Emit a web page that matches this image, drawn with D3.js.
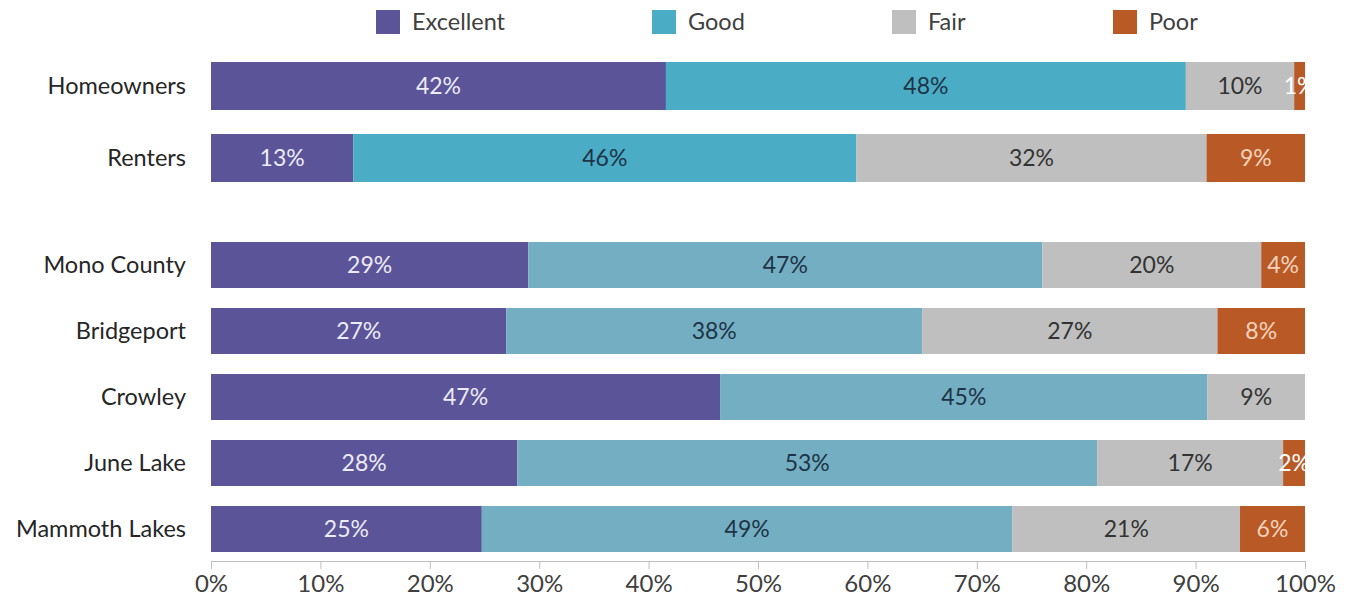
<!DOCTYPE html>
<html>
<head>
<meta charset="utf-8">
<script src="https://cdn.jsdelivr.net/npm/d3@7"></script>
<style>
body { margin: 0; background: #fff; }
</style>
</head>
<body>
<script>
// rating categories
var ratings = ["Excellent", "Good", "Fair", "Poor"];

// top block: tenure
var tenure = ["Homeowners", "Renters"];
var tenureExcellent = [42, 13];
var tenureGood = [48, 46];
var tenureFair = [10, 32];
var tenurePoor = [1, 9];

// bottom block: communities
var places = ["Mono County", "Bridgeport", "Crowley", "June Lake", "Mammoth Lakes"];
var placeExcellent = [29, 27, 47, 28, 25];
var placeGood = [47, 38, 45, 53, 49];
var placeFair = [20, 27, 9, 17, 21];
var placePoor = [4, 8, 0, 2, 6];

var xTicks = [0, 0.1, 0.2, 0.3, 0.4, 0.5, 0.6, 0.7, 0.8, 0.9, 1];

var width = 1353, height = 611;
var fontFam = "Lato, 'Open Sans', sans-serif";

var svg = d3.select("body")
	.append("svg")
	.attr("width", width)
	.attr("height", height);

var xScale = d3.scaleLinear()
	.domain([0, 1])
	.range([211, 1305]);

var fillTop = {Excellent: "#5b5499", Good: "#4bacc6", Fair: "#bfbfbf", Poor: "#b95a26"};
var fillBottom = {Excellent: "#5b5499", Good: "#74aec3", Fair: "#bfbfbf", Poor: "#b95a26"};
var labelColor = {Excellent: "#ecebf5", Good: "#1e3446", Fair: "#333333", Poor: "#f6d2bd"};

// clip so labels of thin end segments are cut at the bar end
svg.append("clipPath")
	.attr("id", "plotClip")
	.append("rect")
	.attr("x", 0)
	.attr("y", 0)
	.attr("width", xScale(1))
	.attr("height", height);

function makeRows(names, ex, gd, fr, pr) {
	return names.map(function(n, i) {
		return {name: n, Excellent: ex[i], Good: gd[i], Fair: fr[i], Poor: pr[i]};
	});
}

function drawBlock(rows, yScale, fills) {
	var stack = d3.stack()
		.keys(ratings)
		.offset(d3.stackOffsetExpand);
	var series = stack(rows);

	var g = svg.append("g");

	var layer = g.selectAll("g.layer")
		.data(series)
		.enter().append("g")
		.attr("class", "layer")
		.attr("fill", function(s) { return fills[s.key]; });

	layer.selectAll("rect")
		.data(function(s) { return s; })
		.enter().append("rect")
		.attr("x", function(d) { return xScale(d[0]); })
		.attr("y", function(d) { return yScale(d.data.name); })
		.attr("width", function(d) { return xScale(d[1]) - xScale(d[0]); })
		.attr("height", yScale.bandwidth());

	// value labels
	var lab = g.append("g").attr("clip-path", "url(#plotClip)");
	series.forEach(function(s) {
		lab.selectAll(null)
			.data(s.filter(function(d) { return d.data[s.key] > 0; }))
			.enter().append("text")
			.attr("x", function(d) { return (xScale(d[0]) + xScale(d[1])) / 2; })
			.attr("y", function(d) { return yScale(d.data.name) + yScale.bandwidth() / 2; })
			.attr("dy", "0.36em")
			.attr("text-anchor", "middle")
			.attr("font-family", fontFam)
			.attr("font-size", 23)
			.attr("fill", function(d) {
				// tiny poor slice: text spills over the grey, shows white
				if (s.key == "Poor" && d.data.Poor < 3) return "#ffffff";
				return labelColor[s.key];
			})
			.text(function(d) { return d.data[s.key] + "%"; });
	});

	// category labels
	g.append("g")
		.selectAll("text")
		.data(rows)
		.enter().append("text")
		.attr("x", 186)
		.attr("y", function(d) { return yScale(d.name) + yScale.bandwidth() / 2; })
		.attr("dy", "0.36em")
		.attr("text-anchor", "end")
		.attr("font-family", fontFam)
		.attr("font-size", 23.5)
		.attr("fill", "#262626")
		.text(function(d) { return d.name; });
}

var yTop = d3.scaleBand()
	.domain(tenure)
	.range([38, 206])
	.padding(1 / 3);

var yBottom = d3.scaleBand()
	.domain(places)
	.range([222, 572])
	.padding(20 / 66);

drawBlock(makeRows(tenure, tenureExcellent, tenureGood, tenureFair, tenurePoor), yTop, fillTop);
drawBlock(makeRows(places, placeExcellent, placeGood, placeFair, placePoor), yBottom, fillBottom);

// x axis
var xAxis = svg.append("g")
	.attr("transform", "translate(0,561)")
	.call(d3.axisBottom(xScale)
		.tickValues(xTicks)
		.tickSize(8)
		.tickPadding(6)
		.tickFormat(d3.format(".0%")));
xAxis.select(".domain").attr("stroke", "#bfbfbf");
xAxis.selectAll(".tick line").attr("stroke", "#bfbfbf");
xAxis.selectAll("text")
	.attr("font-family", fontFam)
	.attr("font-size", 24)
	.attr("fill", "#404040");

// legend
var legendX = [376, 652, 892, 1113];
var legend = svg.append("g")
	.selectAll("g")
	.data(ratings)
	.enter().append("g")
	.attr("transform", function(d, i) { return "translate(" + legendX[i] + ",10)"; });

legend.append("rect")
	.attr("width", 24)
	.attr("height", 24)
	.attr("fill", function(d) { return fillTop[d]; });

legend.append("text")
	.attr("x", 36)
	.attr("y", 12)
	.attr("dy", "0.36em")
	.attr("font-family", fontFam)
	.attr("font-size", 23.5)
	.attr("fill", "#404040")
	.text(function(d) { return d; });
</script>
</body>
</html>
